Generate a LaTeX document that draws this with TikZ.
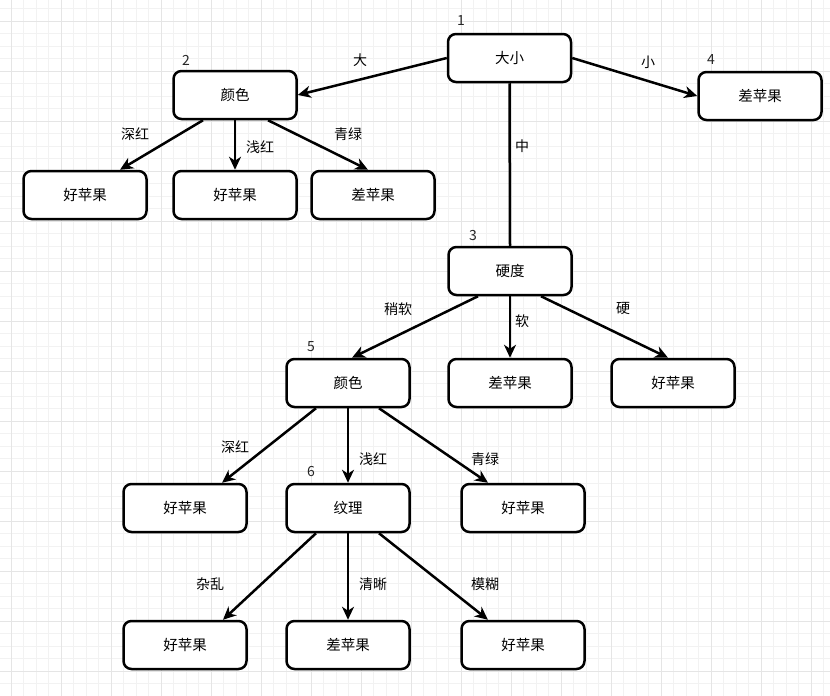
\documentclass[tikz,border=0pt]{standalone}
\usepackage{fontspec}
\setmainfont{Noto Sans CJK SC}
\usetikzlibrary{arrows.meta,calc}
\begin{document}
\begin{tikzpicture}[x=1pt,y=-1pt,
  box/.style={draw=black,line width=2.5pt,rounded corners=8pt,fill=white,
    minimum width=123pt,minimum height=48pt,inner sep=0pt,font=\fontsize{14.5pt}{16pt}\selectfont},
  edge/.style={line width=2.5pt,draw=black},
  arr/.style={edge,-{Stealth[length=13pt,width=12pt,inset=4pt]}},
  elab/.style={font=\fontsize{14pt}{16pt}\selectfont,inner sep=0pt},
  num/.style={font=\fontsize{14pt}{16pt}\selectfont,inner sep=0pt,text=black!85},
  gminor/.style={draw=black!5,line width=0.8pt},
  gmajor/.style={draw=black!10,line width=0.9pt}]
\useasboundingbox (0,0) rectangle (830,696);
\fill[white] (0,0) rectangle (830,696);
\begin{scope}
\clip (0,0) rectangle (830,696);
\foreach \k in {-1,...,66} {\draw[gminor] ({11+12.5*\k},0) -- ({11+12.5*\k},696);}
\foreach \k in {-2,...,55} {\draw[gminor] (0,{21+12.5*\k}) -- (830,{21+12.5*\k});}
\foreach \k in {0,...,16} {\draw[gmajor] ({11+50*\k},0) -- ({11+50*\k},696);}
\foreach \k in {-1,...,13} {\draw[gmajor] (0,{21+50*\k}) -- (830,{21+50*\k});}
\end{scope}

% nodes
\node[box] (n1) at (509.5,58) {大小};
\node[box] (n2) at (235,95) {颜色};
\node[box] (n4) at (760,96) {差苹果};
\node[box] (a1) at (85,195) {好苹果};
\node[box] (a2) at (235,195) {好苹果};
\node[box] (a3) at (373,195) {差苹果};
\node[box] (n3) at (510,271) {硬度};
\node[box] (n5) at (348,383) {颜色};
\node[box] (b2) at (510,383) {差苹果};
\node[box] (b3) at (673,383) {好苹果};
\node[box] (c1) at (185,508) {好苹果};
\node[box] (n6) at (348,508) {纹理};
\node[box] (c3) at (523,508) {好苹果};
\node[box] (d1) at (185,645) {好苹果};
\node[box] (d2) at (348,645) {差苹果};
\node[box] (d3) at (523,645) {好苹果};

% number labels
\node[num] (l1) at (461,21) {1};
\node[num] (l2) at (186,60) {2};
\node[num] (l3) at (473,236) {3};
\node[num] (l4) at (711,60) {4};
\node[num] (l5) at (311,347) {5};
\node[num] (l6) at (311,472) {6};

% connectors
\draw[arr] (n1.west) -- (n2.east);
\draw[arr] (n1.east) -- (n4.west);
\draw[edge] (n1.south) -- (n3.north);

\draw[arr] ([xshift=-32pt]n2.south) -- ([xshift=35pt]a1.north);
\draw[arr] (n2.south) -- (a2.north);
\draw[arr] ([xshift=33pt]n2.south) -- ([xshift=-5pt]a3.north);

\draw[arr] ([xshift=-32pt]n3.south) -- ([xshift=4pt]n5.north);
\draw[arr] (n3.south) -- (b2.north);
\draw[arr] ([xshift=31pt]n3.south) -- ([xshift=-5pt]b3.north);

\draw[arr] ([xshift=-32pt]n5.south) -- ([xshift=37pt]c1.north);
\draw[arr] (n5.south) -- (n6.north);
\draw[arr] ([xshift=31pt]n5.south) -- ([xshift=-35pt]c3.north);

\draw[arr] ([xshift=-32pt]n6.south) -- ([xshift=38pt]d1.north);
\draw[arr] (n6.south) -- (d2.north);
\draw[arr] ([xshift=31pt]n6.south) -- ([xshift=-35pt]d3.north);

% edge labels
\node[elab] (e1) at (360,60) {大};
\node[elab] (e2) at (648,62) {小};
\node[elab] (e3) at (522,146) {中};
\node[elab] (e4) at (135,134) {深红};
\node[elab] (e5) at (260,147) {浅红};
\node[elab] (e6) at (348,134) {青绿};
\node[elab] (e7) at (398,309) {稍软};
\node[elab] (e8) at (522,321) {软};
\node[elab] (e9) at (623,308) {硬};
\node[elab] (e10) at (235,447) {深红};
\node[elab] (e11) at (373,459) {浅红};
\node[elab] (e12) at (485,459) {青绿};
\node[elab] (e13) at (210,584) {杂乱};
\node[elab] (e14) at (373,584) {清晰};
\node[elab] (e15) at (485,584) {模糊};
\end{tikzpicture}
\end{document}
